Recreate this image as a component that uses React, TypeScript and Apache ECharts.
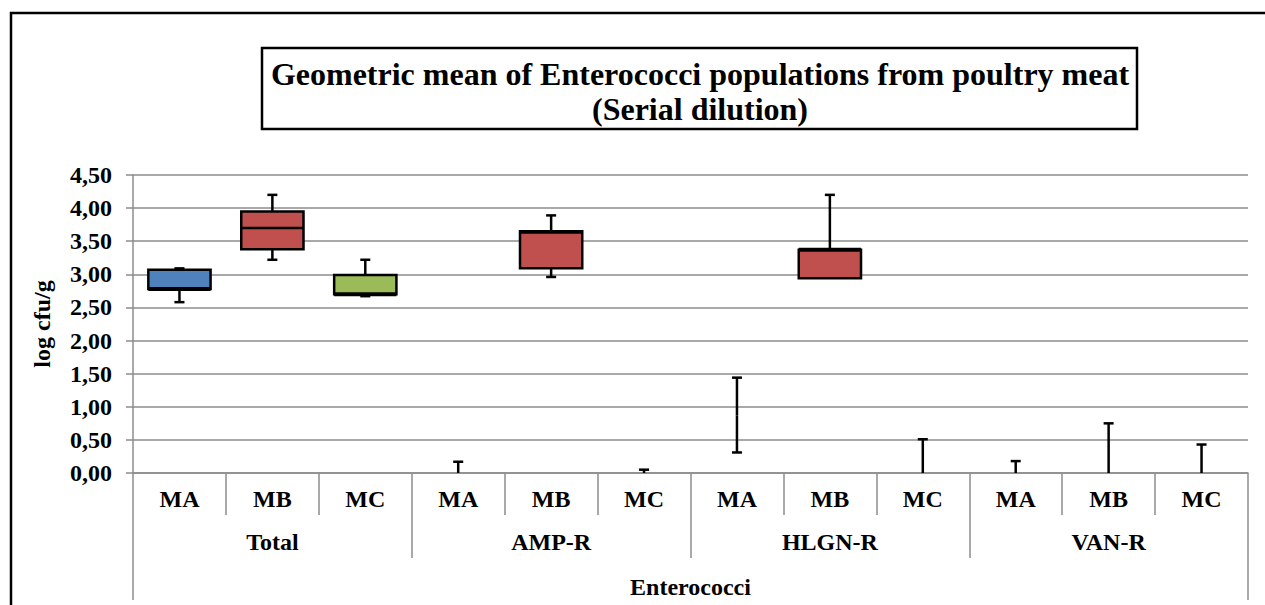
import React, { useEffect, useRef } from "react";
import * as echarts from "echarts";

const groups = ["Total", "AMP-R", "HLGN-R", "VAN-R"];
const methods = ["MA", "MB", "MC"];
const outerLabel = ["Enterococci"];
const yTicks = [0, 0.5, 1, 1.5, 2, 2.5, 3, 3.5, 4, 4.5];

// box data per category (groups x methods)
const lowVals = [2.58, 3.22, 2.67, 0, 2.96, 0, 0.31, 2.94, 0, 0, 0, 0];
const q1Vals = [2.78, 3.38, 2.7, 0, 3.09, 0, 0.87, 2.94, 0, 0, 0, 0];
const medianVals = [2.78, 3.7, 2.7, 0, 3.63, 0, 0.87, 3.37, 0, 0, 0, 0];
const q3Vals = [3.07, 3.95, 2.99, 0, 3.65, 0, 0.87, 3.37, 0, 0, 0, 0];
const highVals = [3.09, 4.2, 3.22, 0.17, 3.89, 0.05, 1.44, 4.2, 0.51, 0.18, 0.75, 0.43];

const methodColors = ["#4F81BD", "#C0504D", "#9BBB59"];

const FONT = "Liberation Serif";

export default function App() {
  const ref = useRef<HTMLDivElement>(null);

  useEffect(() => {
    if (!ref.current) return;
    const chart = echarts.init(ref.current, undefined, { renderer: "svg" });

    const cats: string[] = [];
    groups.forEach(() => methods.forEach((m) => cats.push(m)));

    const data = cats.map((_, i) => [
      i,
      lowVals[i],
      q1Vals[i],
      medianVals[i],
      q3Vals[i],
      highVals[i],
      i % 3,
    ]);

    const lw = 2.5;
    const stroke = "#000";

    const renderItem = (params: any, api: any) => {
      const idx = api.value(0);
      const low = api.value(1);
      const q1 = api.value(2);
      const med = api.value(3);
      const q3 = api.value(4);
      const high = api.value(5);
      const colorIdx = api.value(6);
      const bandW = api.size([1, 0])[0];
      const boxW = bandW * 0.67;
      const capW = 10;
      const pLow = api.coord([idx, low]);
      const pQ1 = api.coord([idx, q1]);
      const pMed = api.coord([idx, med]);
      const pQ3 = api.coord([idx, q3]);
      const pHigh = api.coord([idx, high]);
      const x = pLow[0];
      const children: any[] = [];
      const lineStyle = { stroke, lineWidth: lw };
      if (high > q3) {
        children.push({
          type: "line",
          shape: { x1: x, y1: pQ3[1], x2: x, y2: pHigh[1] },
          style: lineStyle,
        });
        children.push({
          type: "line",
          shape: { x1: x - capW / 2, y1: pHigh[1], x2: x + capW / 2, y2: pHigh[1] },
          style: lineStyle,
        });
      }
      if (low < q1) {
        children.push({
          type: "line",
          shape: { x1: x, y1: pLow[1], x2: x, y2: pQ1[1] },
          style: lineStyle,
        });
        if (low > 0) {
          children.push({
            type: "line",
            shape: { x1: x - capW / 2, y1: pLow[1], x2: x + capW / 2, y2: pLow[1] },
            style: lineStyle,
          });
        }
      }
      if (q3 > q1) {
        children.push({
          type: "rect",
          shape: { x: x - boxW / 2, y: pQ3[1], width: boxW, height: pQ1[1] - pQ3[1] },
          style: { fill: methodColors[colorIdx], stroke, lineWidth: lw },
        });
        children.push({
          type: "line",
          shape: { x1: x - boxW / 2, y1: pMed[1], x2: x + boxW / 2, y2: pMed[1] },
          style: { stroke, lineWidth: med === q1 || med === q3 ? 4 : lw },
        });
      }
      return { type: "group", children };
    };

    const labelStyle = {
      fontFamily: FONT,
      fontWeight: "bold",
      fontSize: 24,
      color: "#000",
    };
    const grayLine = { color: "#8c8c8c", width: 1.5 };

    chart.setOption({
      animation: false,
      textStyle: { fontFamily: FONT },
      grid: { left: 133, right: 17, top: 175, bottom: 132, containLabel: false },
      xAxis: [
        {
          type: "category",
          data: cats,
          position: "bottom",
          axisLine: { show: true, lineStyle: grayLine },
          axisTick: { show: true, interval: 0, length: 42, lineStyle: grayLine },
          axisLabel: { ...labelStyle, interval: 0, margin: 14 },
          splitLine: { show: false },
        },
        {
          type: "category",
          data: groups,
          position: "bottom",
          offset: 42,
          axisLine: { show: false },
          axisTick: { show: true, interval: 0, length: 43, lineStyle: grayLine },
          axisLabel: { ...labelStyle, interval: 0, margin: 15 },
        },
        {
          type: "category",
          data: outerLabel,
          position: "bottom",
          offset: 85,
          axisLine: { show: false },
          axisTick: { show: true, interval: 0, length: 42, lineStyle: grayLine },
          axisLabel: { ...labelStyle, interval: 0, margin: 17 },
        },
      ],
      yAxis: {
        type: "value",
        min: yTicks[0],
        max: yTicks[yTicks.length - 1],
        interval: 0.5,
        name: "log cfu/g",
        nameLocation: "middle",
        nameRotate: 90,
        nameGap: 79,
        nameTextStyle: { ...labelStyle },
        axisLine: { show: true, lineStyle: grayLine },
        axisTick: { show: true, length: 7, lineStyle: grayLine },
        axisLabel: {
          ...labelStyle,
          margin: 21,
          formatter: (v: number) => v.toFixed(2).replace(".", ","),
        },
        splitLine: { show: true, lineStyle: grayLine },
      },
      series: [
        {
          type: "custom",
          renderItem,
          data,
          encode: { x: 0, y: [1, 5] },
          xAxisIndex: 0,
          yAxisIndex: 0,
          clip: false,
        },
      ],
      graphic: [
        {
          type: "polyline",
          shape: { points: [[11, 605], [11, 13], [1265, 13]] },
          style: { stroke: "#000", lineWidth: 2.5, fill: null },
          silent: true,
        },
        {
          type: "rect",
          shape: { x: 262, y: 48, width: 875, height: 81 },
          style: { stroke: "#000", lineWidth: 2.5, fill: "#fff" },
          silent: true,
        },
        {
          type: "text",
          x: 700,
          y: 74,
          style: {
            text: "Geometric mean of Enterococci populations from poultry meat",
            fontFamily: FONT,
            fontWeight: "bold",
            fontSize: 32,
            fill: "#000",
            align: "center",
            verticalAlign: "middle",
          },
        },
        {
          type: "text",
          x: 700,
          y: 109,
          style: {
            text: "(Serial dilution)",
            fontFamily: FONT,
            fontWeight: "bold",
            fontSize: 32,
            fill: "#000",
            align: "center",
            verticalAlign: "middle",
          },
        },
      ],
    });

    return () => chart.dispose();
  }, []);

  return (
    <div
      ref={ref}
      style={{ position: "fixed", left: 0, top: 0, width: 1265, height: 605, background: "#fff" }}
    />
  );
}
